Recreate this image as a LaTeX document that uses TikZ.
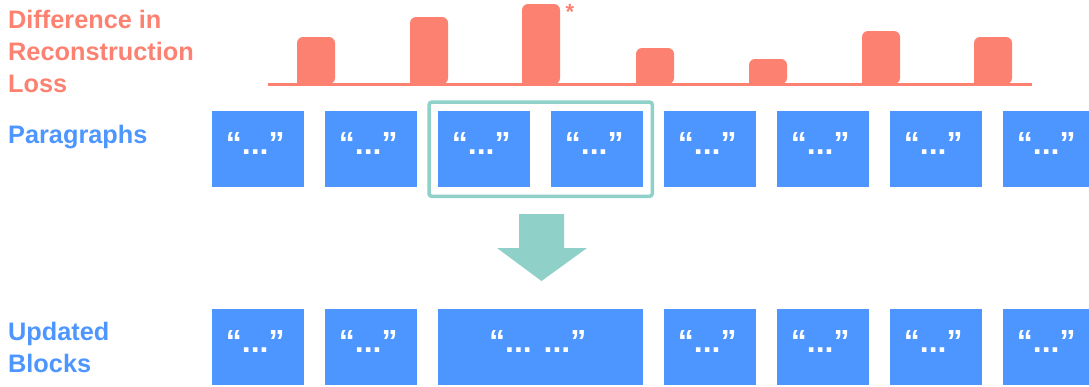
\documentclass[tikz,border=0pt]{standalone}
\usepackage{fontspec}
\setmainfont{Liberation Sans}
\usetikzlibrary{calc,fit}
\definecolor{salmon}{RGB}{252,129,113}
\definecolor{pblue}{RGB}{77,150,255}
\definecolor{mint}{RGB}{143,208,200}
\begin{document}
\begin{tikzpicture}[x=1pt,y=1pt,
  para/.style={fill=pblue, draw=none, minimum width=92pt, minimum height=76pt, inner sep=0pt, anchor=north west},
  qt/.style={text=white, font=\bfseries\fontsize{32}{36}\selectfont, anchor=base, inner sep=0pt},
  lbl/.style={font=\bfseries\fontsize{25.3}{32}\selectfont, anchor=base west, inner sep=0pt},
  bar/.style={fill=salmon, rounded corners=6pt}]
\useasboundingbox (0,0) rectangle (1089,-386);
\clip (0,0) rectangle (1089,-386);
% labels
\node[lbl, text=salmon] (l1) at (8,-28) {Difference in};
\node[lbl, text=salmon] (l2) at (8,-60) {Reconstruction};
\node[lbl, text=salmon] (l3) at (8,-92) {Loss};
\node[lbl, text=pblue] (l4) at (8,-143) {Paragraphs};
\node[lbl, text=pblue] (l5) at (8,-340) {Updated};
\node[lbl, text=pblue] (l6) at (8,-372) {Blocks};
% bars
\foreach \x/\t in {297/37,410/17,522/4,636/48,749/59,862/31,974/37}{
  \fill[bar] (\x,-84) -- (\x,-\t) -- (\x+38,-\t) -- (\x+38,-84) [sharp corners] -- cycle;
}
\draw[salmon, line width=3pt] (268,-84.5) -- (1032,-84.5);
\node[text=salmon, font=\bfseries\fontsize{22}{22}\selectfont, anchor=base, inner sep=0pt] (ast) at (570,-19) {*};
% paragraphs
\foreach \x [count=\k] in {212,325,438,551,664,777,890,1003}{
  \node[para] (p\k) at (\x,-111) {};
  \node[qt] (q\k) at ($(p\k.north)+(-3,-43)$) {“...”};
}
\node[draw=mint, line width=3.5pt, rounded corners=3pt, inner sep=9pt, fit=(p3)(p4)] (grp) {};
% big arrow
\fill[mint] (519,-214) -- (564,-214) -- (564,-248) -- (587,-248) -- (541.5,-281) -- (497,-248) -- (519,-248) -- cycle;
% updated blocks
\foreach \x [count=\k] in {212,325}{
  \node[para] (u\k) at (\x,-309) {};
  \node[qt] at ($(u\k.north)+(-3,-43)$) {“...”};
}
\node[para, minimum width=205pt] (u3) at (438,-309) {};
\node[qt] (uq3) at ($(u3.north)+(-3,-43)$) {“... ...”};
\foreach \x [count=\k from 4] in {664,777,890,1003}{
  \node[para] (u\k) at (\x,-309) {};
  \node[qt] at ($(u\k.north)+(-3,-43)$) {“...”};
}
\end{tikzpicture}
\end{document}
